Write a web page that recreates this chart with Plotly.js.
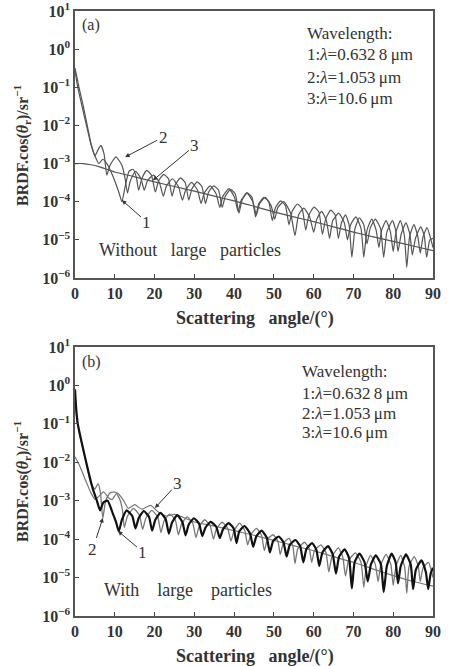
<!DOCTYPE html>
<html>
<head>
<meta charset="utf-8">
<script src="https://cdn.plot.ly/plotly-3.0.1.min.js"></script>
<style>html,body{margin:0;padding:0;background:#fff;}#chart{width:454px;height:666px;}</style>
</head>
<body>
<div id="chart"></div>
<script>
// ---------- Panel (a): without large particles ----------
const a1_x = [0,0.5,1,2,3,4,5,6,7,8,9,10,11,11.8,12.6,13.6,14.6,15.4,16.0,16.8,18.0,19.2,20.2,21.0,22.3,23.5,24.4,25.2,26.5,27.7,28.6,29.4,30.7,31.9,32.8,33.6,34.9,36.1,37.0,37.8,39.1,40.3,41.2,42.0,43.3,44.5,45.4,46.2,47.5,48.7,49.6,50.4,51.7,52.9,53.8,54.6,55.9,57.1,58.0,58.8,60.1,61.3,62.2,63.0,64.3,65.4,66.2,67.0,68.0,68.9,69.6,70.4,71.5,72.6,73.4,74.2,75.5,76.8,77.6,78.4,79.8,80.6,81.2,82.0,83.2,84.2,84.8,85.6,86.9,87.8,88.4,89.2,90];
const a1_y = [3.2e-1,1.8e-1,1.0e-1,3.5e-2,1.1e-2,3.5e-3,1.6e-3,1.0e-3,1.3e-3,1.0e-3,6.3e-4,3.5e-4,1.8e-4,1.0e-4,2.5e-4,6.3e-4,7.1e-4,4.5e-4,2.0e-4,4.0e-4,6.6e-4,5.0e-4,1.8e-4,3.5e-4,5.2e-4,4.0e-4,1.4e-4,2.8e-4,4.2e-4,3.2e-4,1.1e-4,2.2e-4,3.3e-4,2.5e-4,8.9e-5,1.8e-4,2.6e-4,2.0e-4,7.1e-5,1.4e-4,2.1e-4,1.6e-4,5.0e-5,1.1e-4,1.7e-4,1.3e-4,4.0e-5,8.9e-5,1.3e-4,1.0e-4,3.2e-5,7.1e-5,1.05e-4,7.9e-5,2.5e-5,5.6e-5,8.7e-5,6.6e-5,1.8e-5,4.5e-5,7.2e-5,5.4e-5,1.4e-5,3.5e-5,6.0e-5,4.5e-5,1.1e-5,2.8e-5,4.5e-5,2.5e-5,3.5e-6,2.0e-5,3.8e-5,2.5e-5,7.9e-6,2.0e-5,3.5e-5,2.0e-5,3.5e-6,1.6e-5,3.2e-5,1.8e-5,5.0e-6,1.4e-5,2.8e-5,1.4e-5,4.0e-6,1.1e-5,2.2e-5,1.3e-5,3.5e-6,1.0e-5,1.1e-5];

const a2_x = [0,0.5,1,2,3,4,5,5.7,6.5,7.3,8.0,8.8,10.3,11.8,12.6,13.2,13.9,15.2,16.6,17.4,18.2,19.7,21.2,22.2,23.0,24.5,26.0,27.0,27.8,29.3,30.8,31.7,32.5,34.0,35.5,36.4,37.2,38.7,40.1,41.0,41.8,43.2,44.7,45.6,46.4,47.8,49.3,50.2,51.0,52.5,54.2,55.3,56.2,57.5,59.0,60.0,60.8,62.0,63.2,64.0,64.8,66.3,67.7,68.5,69.3,70.6,71.9,72.6,73.4,74.6,75.7,76.4,77.1,78.2,79.3,80.0,80.7,81.8,82.8,83.4,84.1,85.2,86.2,86.8,87.5,88.5,89.4,90];
const a2_y = [2.8e-1,1.3e-1,7.1e-2,2.5e-2,8.9e-3,3.2e-3,1.6e-3,2.2e-3,3.0e-3,1.8e-3,5.0e-4,9.0e-4,1.5e-3,9.0e-4,4.0e-4,1.7e-4,3.5e-4,6.3e-4,4.0e-4,2.0e-4,3.5e-4,5.0e-4,3.2e-4,1.4e-4,2.6e-4,4.0e-4,2.5e-4,1.1e-4,2.0e-4,3.2e-4,2.0e-4,9.0e-5,1.7e-4,2.6e-4,1.6e-4,7.1e-5,1.4e-4,2.2e-4,1.3e-4,5.6e-5,1.1e-4,1.7e-4,1.0e-4,4.5e-5,8.9e-5,1.3e-4,7.9e-5,3.5e-5,7.1e-5,1.0e-4,5.0e-5,1.3e-5,4.5e-5,6.8e-5,4.0e-5,1.6e-5,3.5e-5,5.6e-5,3.2e-5,1.1e-5,3.2e-5,5.0e-5,2.8e-5,1.0e-5,2.5e-5,4.0e-5,2.0e-5,3.5e-6,1.8e-5,3.5e-5,1.8e-5,6.3e-6,1.8e-5,3.2e-5,1.6e-5,5.0e-6,1.6e-5,3.2e-5,1.3e-5,1.9e-6,1.2e-5,2.5e-5,1.2e-5,4.5e-6,1.2e-5,2.1e-5,1.1e-5,6.3e-6];

const a3_x = [0,2,4,6,8,10,15,20,25,30,35,40,45,50,55,60,65,70,75,80,85,90];
const a3_y = [1.0e-3,1.0e-3,9.3e-4,8.3e-4,7.1e-4,6.0e-4,4.5e-4,3.3e-4,2.5e-4,1.9e-4,1.4e-4,1.05e-4,7.6e-5,5.4e-5,4.0e-5,3.0e-5,2.2e-5,1.6e-5,1.2e-5,9.1e-6,6.9e-6,5.2e-6];

// ---------- Panel (b): with large particles ----------
const b1_x = [0,0.3,0.7,1.5,2.5,3.5,4.5,5.5,6.3,7.1,8.2,9.4,10.3,11.0,11.8,13.0,14.4,15.2,16.0,17.3,18.6,19.4,20.2,21.5,22.8,23.6,24.4,25.7,27.0,27.8,28.6,29.9,31.2,32.0,32.8,34.1,35.5,36.4,37.2,38.6,39.9,40.6,41.3,42.6,44.0,44.8,45.6,46.9,48.2,49.0,49.8,51.2,52.4,53.2,54.0,55.4,56.6,57.4,58.2,59.6,60.7,61.4,62.2,63.6,64.8,65.6,66.4,67.8,68.9,69.6,70.3,71.5,72.8,73.6,74.4,75.6,76.9,77.6,78.4,79.6,80.6,81.2,81.9,83.2,84.4,85.0,85.7,87.1,88.2,88.8,89.4,90];
const b1_y = [7.9e-1,2.5e-1,1.0e-1,4.0e-2,1.4e-2,5.0e-3,2.0e-3,1.0e-3,5.6e-4,8.9e-4,1.0e-3,5.0e-4,2.8e-4,1.6e-4,3.2e-4,5.6e-4,4.0e-4,1.9e-4,3.5e-4,5.4e-4,3.8e-4,1.66e-4,3.2e-4,4.8e-4,3.3e-4,1.4e-4,2.7e-4,4.2e-4,2.8e-4,1.26e-4,2.4e-4,3.5e-4,2.5e-4,1.2e-4,2.0e-4,2.8e-4,2.1e-4,1.07e-4,1.8e-4,2.6e-4,1.9e-4,7.9e-5,1.6e-4,2.2e-4,1.4e-4,6.3e-5,1.2e-4,1.66e-4,1.1e-4,4.5e-5,8.9e-5,1.17e-4,8.3e-5,3.5e-5,7.1e-5,9.5e-5,6.6e-5,2.5e-5,5.6e-5,7.9e-5,5.2e-5,2.0e-5,4.5e-5,6.6e-5,4.0e-5,1.26e-5,3.5e-5,5.4e-5,3.2e-5,5.2e-6,2.5e-5,4.2e-5,2.5e-5,7.9e-6,2.2e-5,3.8e-5,2.2e-5,4.2e-6,2.0e-5,4.2e-5,2.5e-5,7.1e-6,2.0e-5,4.0e-5,2.2e-5,5.0e-6,1.6e-5,2.8e-5,1.4e-5,5.0e-6,1.26e-5,1.8e-5];

const b2_x = [0,0.4,1,2,3,4,5.0,5.8,6.4,7.0,7.7,8.8,10.2,11.4,12.0,12.4,13.2,14.7,16.2,17.0,17.8,19.3,20.8,21.6,22.4,23.8,25.2,26.0,26.8,28.2,29.6,30.4,31.2,32.6,34.0,34.8,35.6,37.0,38.4,39.2,40.0,41.4,42.7,43.4,44.2,45.6,46.9,47.6,48.4,49.8,51.0,51.6,52.4,53.8,54.8,55.3,56.0,57.7,58.9,59.5,60.2,61.8,63.1,63.8,64.6,66.2,67.3,68.0,68.8,70.5,71.9,72.6,73.3,74.3,75.5,76.2,76.9,78.2,79.4,80.0,80.7,81.9,82.9,83.4,84.0,85.3,86.3,86.8,87.5,88.9,89.5,90];
const b2_y = [5.0e-1,1.6e-1,6.3e-2,2.2e-2,7.9e-3,2.8e-3,2.0e-3,2.8e-3,1.6e-3,3.5e-4,1.0e-3,1.6e-3,1.66e-3,1.0e-3,5.0e-4,2.0e-4,4.0e-4,6.3e-4,4.2e-4,1.8e-4,3.5e-4,5.6e-4,3.8e-4,1.5e-4,3.0e-4,4.5e-4,3.2e-4,1.3e-4,2.5e-4,3.8e-4,2.6e-4,1.1e-4,2.1e-4,3.2e-4,2.2e-4,1.0e-4,1.9e-4,2.75e-4,1.9e-4,8.9e-5,1.66e-4,2.6e-4,1.66e-4,7.1e-5,1.3e-4,1.9e-4,1.26e-4,5.0e-5,1.0e-4,1.3e-4,8.9e-5,4.0e-5,7.9e-5,1.05e-4,6.3e-5,2.3e-5,5.6e-5,8.3e-5,5.6e-5,2.5e-5,5.0e-5,7.1e-5,4.5e-5,1.4e-5,3.5e-5,5.9e-5,3.5e-5,1.1e-5,2.8e-5,4.4e-5,2.5e-5,5.6e-6,2.2e-5,3.8e-5,2.2e-5,7.9e-6,2.2e-5,4.0e-5,2.2e-5,6.3e-6,2.0e-5,3.8e-5,1.8e-5,3.9e-6,2.0e-5,3.5e-5,2.0e-5,7.9e-6,1.8e-5,2.5e-5,1.6e-5,1.0e-5];

const b3_x = [0,1,2,3,4,5,6,7.2,8.4,9.3,10.6,12,13.4,15,16.8,19,21,23,25,28,30,35,40,45,50,55,60,65,70,75,80,85,90];
const b3_y = [1.4e-2,8.9e-3,5.0e-3,2.8e-3,1.6e-3,1.1e-3,1.3e-3,1.7e-3,1.2e-3,1.07e-3,1.6e-3,1.1e-3,6.3e-4,7.9e-4,6.0e-4,7.6e-4,5.0e-4,4.0e-4,4.4e-4,3.4e-4,2.8e-4,2.2e-4,1.66e-4,1.26e-4,9.3e-5,6.8e-5,5.0e-5,3.5e-5,2.5e-5,1.66e-5,1.12e-5,7.9e-6,6.0e-6];

// ---------- Tick labels ----------
const xTicks = [0,10,20,30,40,50,60,70,80,90];
const yTicks = [1e-6,1e-5,1e-4,1e-3,1e-2,1e-1,1e0,1e1];
const yTickText = ['10<sup>−6</sup>','10<sup>−5</sup>','10<sup>−4</sup>','10<sup>−3</sup>','10<sup>−2</sup>','10<sup>−1</sup>','10<sup>0</sup>','10<sup>1</sup>'];
const legendLines = ['Wavelength:','1:<i>λ</i>=0.632\u20098\u2009μm','2:<i>λ</i>=1.053\u2009μm','3:<i>λ</i>=10.6\u2009μm'];

const W = 454, H = 666;
const px = v => v / W;
const py = v => 1 - v / H;
const SERIF = 'Liberation Serif, Times New Roman, serif';
const SP3 = '\u00a0\u00a0\u00a0';
const SP4 = '\u00a0\u00a0\u00a0\u00a0';

function tr(x, y, xa, ya, color, width) {
  return {x: x, y: y, xaxis: xa, yaxis: ya, type: 'scatter', mode: 'lines',
    line: {color: color, width: width, shape: 'spline', smoothing: 0.5}, showlegend: false, hoverinfo: 'skip'};
}

const data = [
  tr(a3_x, a3_y, 'x', 'y', '#555', 1.2),
  tr(a2_x, a2_y, 'x', 'y', '#555', 1.2),
  tr(a1_x, a1_y, 'x', 'y', '#555', 1.2),
  tr(b3_x, b3_y, 'x2', 'y2', '#777', 1.2),
  tr(b2_x, b2_y, 'x2', 'y2', '#777', 1.3),
  tr(b1_x, b1_y, 'x2', 'y2', '#111', 2.2)
];

function xax(anchor, dom) {
  return {domain: dom, anchor: anchor, range: [0, 90], tickmode: 'array', tickvals: xTicks,
    ticks: 'inside', ticklen: 4, tickwidth: 1.2, tickcolor: '#444', ticklabeloverflow: 'allow',
    showline: true, mirror: true, linecolor: '#555', linewidth: 1.6, showgrid: false, zeroline: false,
    tickfont: {family: SERIF, size: 16, color: '#333', weight: 'bold'}};
}
function yax(anchor, dom) {
  return {domain: dom, anchor: anchor, type: 'log', range: [-6, 1], tickmode: 'array', tickvals: yTicks, ticktext: yTickText,
    ticks: 'inside', ticklen: 4, tickwidth: 1.2, tickcolor: '#444', ticklabeloverflow: 'allow',
    showline: true, mirror: true, linecolor: '#555', linewidth: 1.6, showgrid: false, zeroline: false,
    tickfont: {family: SERIF, size: 16, color: '#333', weight: 'bold'}};
}

const xDom = [px(75), px(433)];
const anns = [];
function txt(x, y, t, size, opts) {
  anns.push(Object.assign({xref: 'paper', yref: 'paper', x: x, y: y, text: t, showarrow: false,
    xanchor: 'left', yanchor: 'middle', font: {family: SERIF, size: size, color: '#333'}}, opts || {}));
}
function arrowAnn(xa, ya, x, ylog, label, ax, ay) {
  anns.push({xref: xa, yref: ya, x: x, y: ylog, text: label, showarrow: true, arrowhead: 2, arrowsize: 0.9,
    arrowwidth: 1, arrowcolor: '#333', ax: ax, ay: ay, standoff: 0, startstandoff: 0,
    font: {family: SERIF, size: 17, color: '#333'}});
}

// panel a texts
txt(px(80), py(25), '(a)', 16);
txt(px(305), py(33), legendLines[0], 17);
txt(px(305), py(55), legendLines[1], 17);
txt(px(305), py(77), legendLines[2], 17);
txt(px(305), py(98), legendLines[3], 17);
txt(px(97), py(250), 'Without' + SP3 + 'large' + SP3 + 'particles', 18);
txt(px(22), py(145), '<b>BRDF.cos(<i>θ</i><sub>r</sub>)/sr<sup>−1</sup></b>', 16, {xanchor: 'center', textangle: -90});
txt(px(255), py(318), '<b>Scattering' + SP3 + 'angle/(°)</b>', 18, {xanchor: 'center'});
arrowAnn('x', 'y', 12.6, -2.83, '2', 38, -20);
arrowAnn('x', 'y', 19.6, -3.44, '3', 42, -35);
arrowAnn('x', 'y', 11.8, -3.96, '1', 25, 22);

// panel b texts
txt(px(80), py(362), '(b)', 16);
txt(px(300), py(372), legendLines[0], 17);
txt(px(300), py(393), legendLines[1], 17);
txt(px(300), py(413), legendLines[2], 17);
txt(px(300), py(433), legendLines[3], 17);
txt(px(102), py(590), 'With' + SP4 + 'large' + SP4 + 'particles', 18);
txt(px(22), py(481), '<b>BRDF.cos(<i>θ</i><sub>r</sub>)/sr<sup>−1</sup></b>', 16, {xanchor: 'center', textangle: -90});
txt(px(255), py(656), '<b>Scattering' + SP3 + 'angle/(°)</b>', 18, {xanchor: 'center'});
arrowAnn('x2', 'y2', 20.1, -3.19, '3', 23, -25);
arrowAnn('x2', 'y2', 7.0, -3.45, '2', -10, 31);
arrowAnn('x2', 'y2', 10.8, -3.79, '1', 25, 21);

const layout = {
  width: W, height: H, margin: {l: 0, r: 0, t: 0, b: 0},
  paper_bgcolor: '#fff', plot_bgcolor: '#fff', showlegend: false,
  xaxis: xax('y', xDom), yaxis: yax('x', [py(278), py(11)]),
  xaxis2: xax('y2', xDom), yaxis2: yax('x2', [py(616), py(347)]),
  annotations: anns
};

Plotly.newPlot('chart', data, layout, {staticPlot: true, displayModeBar: false});
</script>
</body>
</html>
